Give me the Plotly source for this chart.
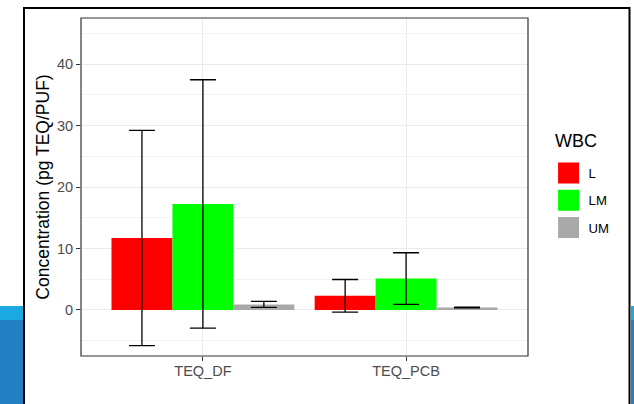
import plotly.graph_objects as go

categories = ["TEQ_DF", "TEQ_PCB"]
groups = ["L", "LM", "UM"]
means = {
    "L": [11.7, 2.3],
    "LM": [17.25, 5.1],
    "UM": [0.9, 0.4],
}
sds = {
    "L": [17.5, 2.65],
    "LM": [20.2, 4.2],
    "UM": [0.5, 0.05],
}
colors = {"L": "#FF0000", "LM": "#00FF00", "UM": "#A9A9A9"}
y_ticks = [0, 10, 20, 30, 40]
legend_title = "WBC"

FONT = "Liberation Sans, Arial, sans-serif"

fig = go.Figure()
for g in groups:
    fig.add_trace(go.Bar(
        x=categories, y=means[g], name=g, showlegend=False,
        marker=dict(color=colors[g], line=dict(width=0)),
        error_y=dict(type="data", array=sds[g], visible=True,
                     color="black", thickness=1.3, width=13),
    ))
# legend keys
for g in groups:
    fig.add_trace(go.Scatter(
        x=[None], y=[None], mode="markers", name=g, legendgroup=g,
        marker=dict(symbol="square", size=16, color=colors[g],
                    line=dict(width=5, color=colors[g])),
    ))

W, H = 634, 404
ml, mr, mt, mb = 81, 106, 18, 48
pw, ph = W - ml - mr, H - mt - mb

def px(x):
    return (x - ml) / pw

def py(y):
    return (H - mb - y) / ph

shapes = []
# blue slide background remnants
for x0, x1 in [(0, 23), (631, 640)]:
    shapes.append(dict(type="rect", xref="paper", yref="paper", x0=px(x0), x1=px(x1),
                       y0=py(306), y1=py(320), fillcolor="#1CA9E1", line=dict(width=0), layer="below"))
    shapes.append(dict(type="rect", xref="paper", yref="paper", x0=px(x0), x1=px(x1),
                       y0=py(420), y1=py(320), fillcolor="#2580C3", line=dict(width=0), layer="below"))
# black frame
shapes.append(dict(type="path", xref="paper", yref="paper",
                   path=f"M {px(24)},{py(420)} L {px(24)},{py(8)} L {px(629.5)},{py(8)} L {px(629.5)},{py(420)}",
                   line=dict(color="black", width=2)))
# panel border
shapes.append(dict(type="rect", xref="paper", yref="paper", x0=0, x1=1, y0=0, y1=1,
                   line=dict(color="#333333", width=1.2), layer="above"))

fig.update_layout(
    width=W, height=H,
    margin=dict(l=ml, r=mr, t=mt, b=mb, autoexpand=False),
    paper_bgcolor="white", plot_bgcolor="white",
    barmode="group", bargap=0.1, bargroupgap=0,
    font=dict(family=FONT, color="black"),
    shapes=shapes,
    annotations=[dict(text=legend_title, xref="paper", yref="paper", x=px(553), y=py(141),
                      xanchor="left", yanchor="middle", showarrow=False,
                      font=dict(size=18, color="black"))],
    legend=dict(
        font=dict(size=13.2, color="black"),
        x=1.046, xanchor="left", y=py(158), yanchor="top",
        tracegroupgap=7, itemsizing="trace",
        bgcolor="rgba(0,0,0,0)",
    ),
    xaxis=dict(
        range=[-0.6, 1.6], showgrid=True, gridcolor="#EBEBEB", gridwidth=1,
        ticks="outside", ticklen=4, tickcolor="#333333", automargin=False,
        ticklabelstandoff=-2,
        tickfont=dict(size=14.5, color="#4D4D4D"), zeroline=False,
    ),
    yaxis=dict(
        range=[-7.5, 47.5], tickvals=y_ticks, showgrid=True, gridcolor="#EBEBEB", gridwidth=1.2,
        minor=dict(dtick=5, tick0=5, showgrid=True, gridcolor="#F2F2F2", gridwidth=0.8),
        ticks="outside", ticklen=4, tickcolor="#333333", automargin=False,
        tickfont=dict(size=14.5, color="#4D4D4D"), zeroline=False,
        title=dict(text="Concentration (pg TEQ/PUF)", font=dict(size=17.5, color="black"), standoff=2),
    ),
)

fig.write_html("out.html", config={"displayModeBar": False},
               post_script="document.body.style.margin='0px';document.body.style.overflow='hidden';")
